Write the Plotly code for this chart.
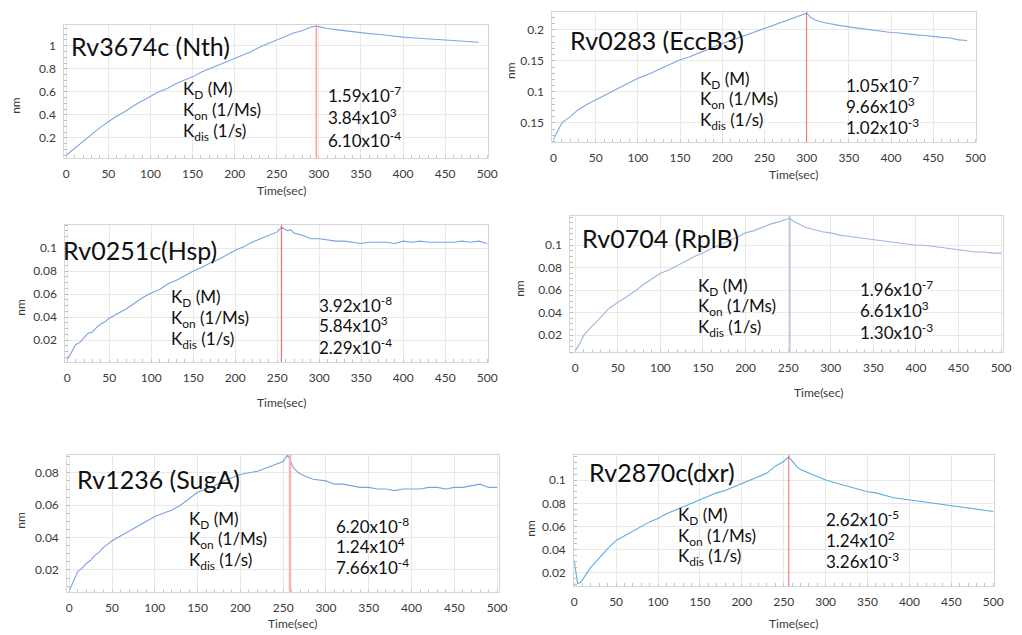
import plotly.graph_objects as go

# ---------------- data ----------------
p1_t = [0, 10, 20, 30, 40, 50, 60, 70, 80, 90, 100, 110, 120, 130, 140, 150, 160, 170, 180, 190, 200,
        210, 220, 230, 240, 250, 260, 270, 280, 290, 297,
        300, 310, 320, 330, 340, 350, 360, 370, 380, 390, 400, 410, 420, 430, 440, 450, 460, 470, 480, 490]
p1_nm = [0.05, 0.11, 0.17, 0.23, 0.29, 0.34, 0.39, 0.43, 0.48, 0.52, 0.56, 0.60, 0.63, 0.67, 0.70, 0.73, 0.77, 0.80, 0.83, 0.86, 0.89,
         0.92, 0.95, 0.99, 1.02, 1.05, 1.08, 1.11, 1.13, 1.16, 1.17,
         1.165, 1.15, 1.14, 1.13, 1.12, 1.115, 1.105, 1.10, 1.09, 1.08, 1.075, 1.07, 1.065, 1.06, 1.055, 1.05, 1.045, 1.04, 1.035, 1.03]

p2_t = [0, 10, 20, 30, 40, 50, 60, 70, 80, 90, 100, 110, 120, 130, 140, 150, 160, 170, 180, 190, 200,
        210, 220, 230, 240, 250, 260, 270, 280, 290, 300,
        305, 310, 320, 330, 340, 350, 360, 370, 380, 390, 400, 410, 420, 430, 440, 450, 460, 470, 480, 490]
p2_nm = [0.023, 0.05, 0.06, 0.072, 0.08, 0.087, 0.094, 0.101, 0.108, 0.115, 0.122, 0.127, 0.133, 0.139, 0.146, 0.152, 0.156, 0.161, 0.167, 0.173, 0.178,
         0.183, 0.188, 0.193, 0.198, 0.203, 0.208, 0.212, 0.217, 0.222, 0.227,
         0.22, 0.216, 0.212, 0.209, 0.207, 0.205, 0.203, 0.201, 0.199, 0.198, 0.196, 0.195, 0.193, 0.192, 0.191, 0.189, 0.188, 0.187, 0.184, 0.183]

p3_t = [0, 5, 10, 15, 20, 25, 30, 35, 40, 45, 50, 60, 70, 80, 90, 100, 110, 120, 130, 140, 150, 160, 170, 180, 190, 200,
        210, 220, 230, 240, 250, 255,
        258, 262, 266, 270, 280, 290, 300, 310, 320, 330, 340, 350, 360, 370, 380, 390, 400, 410, 420, 430, 440, 450, 460, 470, 480, 490, 500]
p3_nm = [0.003, 0.009, 0.016, 0.018, 0.022, 0.026, 0.027, 0.031, 0.034, 0.036, 0.039, 0.043, 0.047, 0.052, 0.057, 0.061, 0.064, 0.069, 0.072, 0.076, 0.080, 0.083, 0.087, 0.090, 0.094, 0.098,
         0.101, 0.105, 0.108, 0.111, 0.114, 0.118,
         0.117, 0.115, 0.116, 0.113, 0.111, 0.108, 0.108, 0.107, 0.106, 0.106, 0.105, 0.104, 0.105, 0.105, 0.105, 0.104, 0.106, 0.105, 0.106, 0.105, 0.105, 0.105, 0.105, 0.106, 0.105, 0.106, 0.104]

p4_t = [0, 5, 10, 15, 20, 30, 40, 50, 60, 70, 80, 90, 100, 110, 120, 130, 140, 150, 160, 170, 180, 190, 200,
        210, 220, 230, 240, 252,
        255, 260, 270, 280, 290, 300, 310, 320, 330, 340, 350, 360, 370, 380, 390, 400, 410, 420, 430, 440, 450, 460, 470, 480, 490, 500]
p4_nm = [0.006, 0.012, 0.02, 0.024, 0.028, 0.036, 0.044, 0.049, 0.054, 0.059, 0.065, 0.07, 0.075, 0.078, 0.082, 0.086, 0.09, 0.093, 0.097, 0.10, 0.104, 0.107, 0.111,
         0.113, 0.116, 0.119, 0.121, 0.124,
         0.122, 0.12, 0.116, 0.114, 0.112, 0.111, 0.109, 0.108, 0.107, 0.106, 0.105, 0.104, 0.103, 0.102, 0.101, 0.1, 0.1, 0.099, 0.098, 0.097, 0.096, 0.095, 0.094, 0.094, 0.093, 0.093]

p5_t = [0, 5, 10, 15, 20, 25, 30, 35, 40, 45, 50, 60, 70, 80, 90, 100, 110, 120, 130, 140, 150, 160, 170, 180, 190, 200,
        210, 220, 230, 240, 250, 255,
        258, 262, 268, 275, 285, 300, 310, 320, 330, 340, 350, 360, 370, 380, 390, 400, 410, 420, 430, 440, 450, 460, 470, 480, 490, 500]
p5_nm = [0.007, 0.013, 0.019, 0.021, 0.024, 0.026, 0.029, 0.031, 0.034, 0.036, 0.038, 0.041, 0.044, 0.047, 0.05, 0.053, 0.055, 0.057, 0.060, 0.064, 0.068, 0.07, 0.072, 0.075, 0.077, 0.079,
         0.080, 0.081, 0.083, 0.085, 0.087, 0.091,
         0.088, 0.083, 0.08, 0.078, 0.076, 0.075, 0.073, 0.073, 0.072, 0.071, 0.071, 0.070, 0.070, 0.069, 0.070, 0.070, 0.070, 0.071, 0.071, 0.070, 0.071, 0.071, 0.072, 0.073, 0.071, 0.071]

p6_t = [0, 2, 4, 8, 12, 16, 20, 25, 30, 40, 50, 60, 70, 80, 90, 100, 110, 120, 130, 140, 150, 160, 170, 180, 190, 200,
        210, 220, 230, 240, 250, 256,
        260, 265, 270, 280, 290, 300, 310, 320, 330, 340, 350, 360, 370, 380, 390, 400, 410, 420, 430, 440, 450, 460, 470, 480, 490, 500]
p6_nm = [0.031, 0.02, 0.011, 0.012, 0.017, 0.021, 0.025, 0.029, 0.033, 0.041, 0.048, 0.052, 0.056, 0.060, 0.064, 0.067, 0.071, 0.074, 0.077, 0.080, 0.083, 0.086, 0.089, 0.091, 0.094, 0.097,
         0.10, 0.103, 0.106, 0.112, 0.116, 0.12,
         0.116, 0.112, 0.109, 0.106, 0.103, 0.1, 0.098, 0.096, 0.094, 0.092, 0.09, 0.089, 0.087, 0.085, 0.084, 0.083, 0.082, 0.081, 0.080, 0.079, 0.078, 0.077, 0.076, 0.075, 0.074, 0.073]

switch_times = [297, 300, 255, 252, 258, 256]
names = ["Rv3674c (Nth)", "Rv0283 (EccB3)", "Rv0251c(Hsp)", "Rv0704 (RplB)", "Rv1236 (SugA)", "Rv2870c(dxr)"]
kd_values = ["1.59x10<sup>-7</sup>", "1.05x10<sup>-7</sup>", "3.92x10<sup>-8</sup>", "1.96x10<sup>-7</sup>", "6.20x10<sup>-8</sup>", "2.62x10<sup>-5</sup>"]
kon_values = ["3.84x10<sup>3</sup>", "9.66x10<sup>3</sup>", "5.84x10<sup>3</sup>", "6.61x10<sup>3</sup>", "1.24x10<sup>4</sup>", "1.24x10<sup>2</sup>"]
kdis_values = ["6.10x10<sup>-4</sup>", "1.02x10<sup>-3</sup>", "2.29x10<sup>-4</sup>", "1.30x10<sup>-3</sup>", "7.66x10<sup>-4</sup>", "3.26x10<sup>-3</sup>"]
x_ticks = [0, 50, 100, 150, 200, 250, 300, 350, 400, 450, 500]
y_tickvals = [[0.2, 0.4, 0.6, 0.8, 1.0], [0.05, 0.1, 0.15, 0.2], [0.02, 0.04, 0.06, 0.08, 0.1],
              [0.02, 0.04, 0.06, 0.08, 0.1], [0.02, 0.04, 0.06, 0.08], [0.02, 0.04, 0.06, 0.08, 0.1]]
y_ticktext = [["0.2", "0.4", "0.6", "0.8", "1"], ["0.15", "0.1", "0.15", "0.2"], ["0.02", "0.04", "0.06", "0.08", "0.1"],
              ["0.02", "0.04", "0.06", "0.08", "0.1"], ["0.02", "0.04", "0.06", "0.08"], ["0.02", "0.04", "0.06", "0.08", "0.1"]]
y_ranges = [[0.026, 1.18], [0.019, 0.229], [0.001, 0.12], [0.005, 0.126], [0.0064, 0.091], [0.0088, 0.1216]]

series = [(p1_t, p1_nm), (p2_t, p2_nm), (p3_t, p3_nm), (p4_t, p4_nm), (p5_t, p5_nm), (p6_t, p6_nm)]

# ---------------- layout (pixel placement) ----------------
W, H = 1022, 635
FONT = "Lato"
# plot box: left, right, top, bottom, px of t=0, px of t=500
boxes = [
    (62, 491, 25, 158, 64, 490),
    (556, 985, 12, 142, 557, 984),
    (63, 491, 225, 362, 65, 490),
    (574, 1012, 216, 352, 579, 1010),
    (65, 502, 455, 592, 67, 500),
    (578, 1003, 455, 586, 578, 1002),
]
line_colors = ["#7fa6e2", "#7fa6e2", "#7ba3e0", "#9db7de", "#7ba3e0", "#5aaee0"]
vline_styles = [("#f5a3a3", 1.6), ("#f06a6a", 1), ("#ef7070", 1.2), ("#a9b9d8", 1.2), ("#f8b4b4", 2.5), ("#f06a6a", 1)]
title_pos = [(67, 46), (572, 40), (59, 250), (584, 238), (73, 479), (591, 472)]
k_pos = [(180, [90, 111, 132]), (703, [80, 100, 121]), (168, [298, 319, 340]),
         (701, [287, 307, 328]), (186, [520, 540, 561]), (681, [516, 537, 557])]
v_pos = [(327, [95, 117, 139]), (851, [85, 106, 127]), (318, [304, 324, 346]),
         (865, [288, 309, 331]), (335, [525, 545, 566]), (831, [518, 539, 560])]
nm_pos = [(12, 105), (513, 70), (17, 307), (522, 288), (17, 520), (533, 528)]
time_pos = [(282, 191), (800, 175), (282, 402), (825, 392), (293, 623), (800, 623)]


def px(x):
    return x / W


def py(y):
    return 1 - y / H


fig = go.Figure()
annotations = []
shapes = []
layout = {}
for i in range(6):
    n = i + 1
    xa = "x" if n == 1 else f"x{n}"
    ya = "y" if n == 1 else f"y{n}"
    t, v = series[i]
    fig.add_trace(go.Scatter(x=t, y=v, mode="lines", xaxis=xa, yaxis=ya,
                             line=dict(color=line_colors[i], width=1.1),
                             showlegend=False, hoverinfo="skip"))
    left, right, top, bottom, x0, x500 = boxes[i]
    s = (x500 - x0) / 500.0
    xr = [(left - x0) / s, (right - x0) / s]
    common = dict(showgrid=True, gridcolor="#e9e9e9", gridwidth=1, zeroline=False,
                  showline=True, linecolor="#d6d6d6", linewidth=1, mirror=True,
                  ticks="", showspikes=False, tickfont=dict(family=FONT, size=12, color="#3a3a3a"))
    layout["xaxis" if n == 1 else f"xaxis{n}"] = dict(
        domain=[px(left), px(right)], range=xr, anchor=ya,
        tickvals=x_ticks, ticklabelstandoff=5,
        minor=dict(ticks="inside", ticklen=3, tickcolor="#c8c8c8", dtick=10, showgrid=False),
        **common)
    layout["yaxis" if n == 1 else f"yaxis{n}"] = dict(
        domain=[py(bottom), py(top)], range=y_ranges[i], anchor=xa,
        tickvals=y_tickvals[i], ticktext=y_ticktext[i], ticklabelstandoff=5,
        minor=dict(ticks="inside", ticklen=3, tickcolor="#bdbdbd", nticks=5, showgrid=False),
        **common)
    col, wid = vline_styles[i]
    shapes.append(dict(type="line", xref=xa, yref=f"{ya} domain", layer="above",
                       x0=switch_times[i], x1=switch_times[i], y0=0, y1=1,
                       line=dict(color=col, width=wid)))
    tx, ty = title_pos[i]
    annotations.append(dict(text=names[i], x=px(tx), y=py(ty), xref="paper", yref="paper",
                            xanchor="left", yanchor="middle", align="left", showarrow=False,
                            font=dict(family=FONT, size=25, color="#111111")))
    kx, kys = k_pos[i]
    for label, yy in zip(["K<sub>D</sub> (M)", "K<sub>on</sub> (1/Ms)", "K<sub>dis</sub> (1/s)"], kys):
        annotations.append(dict(text=label, x=px(kx), y=py(yy), xref="paper", yref="paper",
                                xanchor="left", yanchor="middle", align="left", showarrow=False,
                                font=dict(family=FONT, size=17, color="#111111")))
    vx, vys = v_pos[i]
    for label, yy in zip([kd_values[i], kon_values[i], kdis_values[i]], vys):
        annotations.append(dict(text=label, x=px(vx), y=py(yy), xref="paper", yref="paper",
                                xanchor="left", yanchor="middle", align="left", showarrow=False,
                                font=dict(family=FONT, size=17, color="#111111")))
    nx, ny = nm_pos[i]
    annotations.append(dict(text="nm", x=px(nx), y=py(ny), xref="paper", yref="paper",
                            xanchor="center", yanchor="middle", showarrow=False, textangle=-90,
                            font=dict(family=FONT, size=12, color="#3a3a3a")))
    tx2, ty2 = time_pos[i]
    annotations.append(dict(text="Time(sec)", x=px(tx2), y=py(ty2), xref="paper", yref="paper",
                            xanchor="center", yanchor="middle", showarrow=False,
                            font=dict(family=FONT, size=12, color="#3a3a3a")))

fig.update_layout(width=W, height=H, margin=dict(l=0, r=0, t=0, b=0),
                  paper_bgcolor="white", plot_bgcolor="white", hovermode=False,
                  annotations=annotations, shapes=shapes, **layout)
fig.write_html("out.html", config={"displayModeBar": False, "staticPlot": True})

# remove the browser's default page margin so the figure sits at the window's corner
with open("out.html", "r", encoding="utf-8") as f:
    html = f.read()
html = html.replace("<head>", "<head><style>html,body{margin:0;padding:0;overflow:hidden;}</style>", 1)
with open("out.html", "w", encoding="utf-8") as f:
    f.write(html)
